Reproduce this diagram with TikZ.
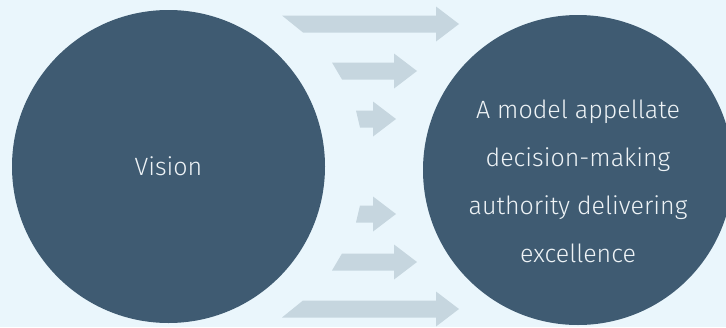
\documentclass[tikz,border=0pt]{standalone}
\usepackage{fontspec}
\setmainfont{Fira Sans}[UprightFont={* Light}]
\definecolor{bgblue}{HTML}{EAF6FC}
\definecolor{circblue}{HTML}{3F5B72}
\definecolor{arrowgrey}{HTML}{C6D6DF}
\definecolor{textwhite}{HTML}{EEF3F6}
\begin{document}
\begin{tikzpicture}[x=1pt,y=-1pt]
		\tikzset{bubble/.style = {shape=circle, fill=circblue, inner sep=0pt}}
		\tikzset{caption/.style = {text=textwhite, align=center, font=\fontsize{25}{48}\selectfont}}
		\tikzset{flow/.style = {fill=arrowgrey}}
		% Background
		\fill[bgblue] (0,0) rectangle (726,327);
		\useasboundingbox (0,0) rectangle (726,327);
		% Draw circles
		\node[bubble, minimum size=313pt] (vision) at (168.5,166.5) {};
		\node[bubble, minimum size=310pt] (model) at (578,170) {};
		\node[caption] (visiontext) at (vision.center) {Vision};
		\node[caption] (modeltext) at (578,181) {A model appellate\\decision-making\\authority delivering\\excellence};
		% Draw arrows, mirrored about the middle line
		\foreach \s in {1,-1}{
			\begin{scope}[shift={(0,166.5)}, yscale=\s]
				\foreach \a/\b/\h/\t/\d in {282/303/436/459/142.5, 332/342/394/417/95.5, 356/360/373/396/47.5}
					\fill[flow] (\a,-\d-8.5) -- (\h,-\d-8.5) -- (\h,-\d-17.5) -- (\t,-\d)
						-- (\h,-\d+17.5) -- (\h,-\d+8.5) -- (\b,-\d+8.5) -- cycle;
			\end{scope}
		}
	\end{tikzpicture}
\end{document}
